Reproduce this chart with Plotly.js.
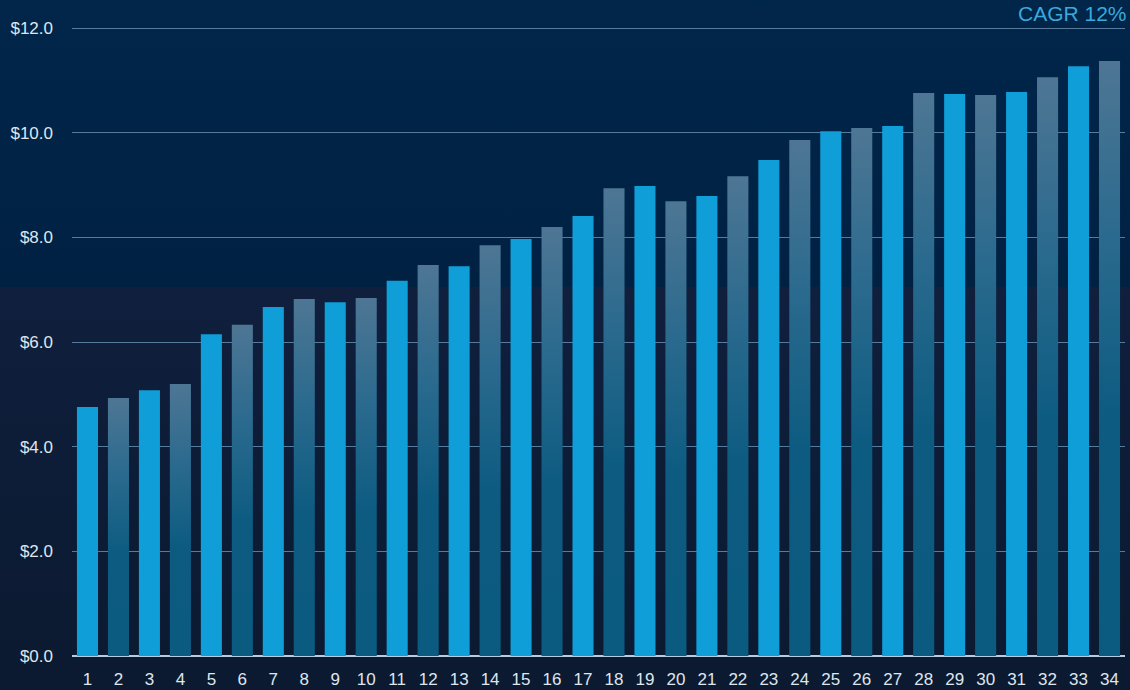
<!DOCTYPE html>
<html>
<head>
<meta charset="utf-8">
<script src="https://cdn.plot.ly/plotly-3.0.1.min.js"></script>
<style>
  html, body { margin: 0; padding: 0; }
  body {
    width: 1130px; height: 690px; overflow: hidden;
    background: linear-gradient(to bottom, #00264a 0px, #012143 287px, #0f1f3d 287px, #0b1a30 690px);
  }
  #chart { width: 1130px; height: 690px; }
</style>
</head>
<body>
<div id="chart"></div>
<script>
const categories = ["1","2","3","4","5","6","7","8","9","10","11","12","13","14","15","16","17","18","19","20","21","22","23","24","25","26","27","28","29","30","31","32","33","34"];
const values = [4.76, 4.93, 5.08, 5.20, 6.15, 6.33, 6.67, 6.82, 6.76, 6.84, 7.17, 7.47, 7.45, 7.85, 7.97, 8.20, 8.41, 8.94, 8.98, 8.69, 8.79, 9.17, 9.48, 9.86, 10.03, 10.09, 10.13, 10.76, 10.74, 10.72, 10.78, 11.06, 11.27, 11.37];
const annotationText = "CAGR 12%";

const solidColor = "#0f9ed8";
const evenBase = "#0b5a80";
const barColors = categories.map((c, i) => (i % 2 === 0 ? solidColor : evenBase));

const fontFamily = "'Liberation Sans', Arial, Helvetica, sans-serif";

const trace = {
  type: "bar",
  x: categories.map(Number),
  y: values,
  marker: { color: barColors, line: { width: 0 } },
  hoverinfo: "none"
};

const layout = {
  width: 1130,
  height: 690,
  margin: { l: 72, r: 5, t: 27, b: 34 },
  paper_bgcolor: "rgba(0,0,0,0)",
  plot_bgcolor: "rgba(0,0,0,0)",
  bargap: 0.32,
  showlegend: false,
  font: { family: fontFamily, color: "#dfe6ee", size: 17 },
  xaxis: {
    range: [0.5, 34.5],
    tickmode: "array",
    tickvals: categories.map(Number),
    ticktext: categories,
    showgrid: false,
    zeroline: false,
    showline: false,
    ticks: "",
    ticklabelstandoff: 11,
    tickfont: { size: 17, color: "#dfe6ee" },
    fixedrange: true
  },
  yaxis: {
    range: [0, 12.02],
    tickmode: "linear",
    tick0: 0,
    dtick: 2,
    tickprefix: "$",
    tickformat: ".1f",
    showgrid: true,
    gridcolor: "#567b9c",
    gridwidth: 1,
    zeroline: true,
    zerolinecolor: "#b4cde2",
    zerolinewidth: 2,
    showline: false,
    ticks: "",
    ticklabelstandoff: 18,
    tickfont: { size: 17, color: "#dfe6ee" },
    fixedrange: true
  },
  annotations: [{
    text: annotationText,
    xref: "paper", yref: "paper",
    x: 1, y: 1,
    xanchor: "right", yanchor: "bottom",
    xshift: 4, yshift: 0,
    showarrow: false,
    font: { family: fontFamily, size: 21, color: "#3aa9dc" }
  }]
};

Plotly.newPlot("chart", [trace], layout, { staticPlot: true, displayModeBar: false }).then(gd => {
  const svg = gd.querySelector("svg.main-svg");
  const ns = "http://www.w3.org/2000/svg";
  let defs = svg.querySelector("defs");
  if (!defs) { defs = document.createElementNS(ns, "defs"); svg.insertBefore(defs, svg.firstChild); }
  const grad = document.createElementNS(ns, "linearGradient");
  grad.setAttribute("id", "evenBarGrad");
  grad.setAttribute("x1", "0"); grad.setAttribute("y1", "0");
  grad.setAttribute("x2", "0"); grad.setAttribute("y2", "1");
  [["0", "#4e7694"], ["0.3", "#2a6a8e"], ["0.6", "#0d5b81"], ["1", "#0b5a80"]].forEach(([o, c]) => {
    const s = document.createElementNS(ns, "stop");
    s.setAttribute("offset", o); s.setAttribute("stop-color", c);
    grad.appendChild(s);
  });
  defs.appendChild(grad);
  const paths = gd.querySelectorAll(".barlayer .point path");
  paths.forEach((p, i) => {
    if (i % 2 === 1) p.style.fill = "url(#evenBarGrad)";
  });
});
</script>
</body>
</html>
